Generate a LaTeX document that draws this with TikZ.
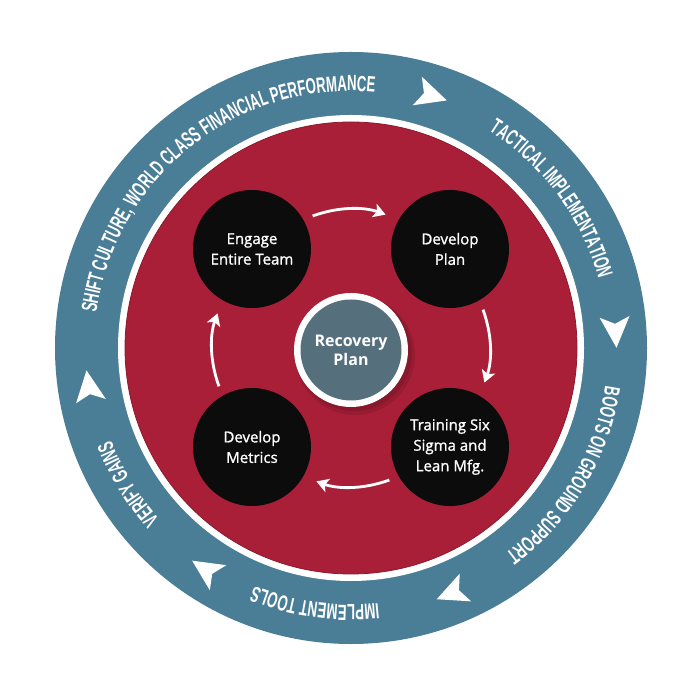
\documentclass[tikz,border=0pt]{standalone}
\usepackage{fontspec}
\usetikzlibrary{decorations.text,arrows.meta}
\newfontfamily\ringfont{Liberation Sans}[FakeStretch=0.6]
\newfontfamily\circfont{Open Sans}[FakeBold=1.2]
\newfontfamily\hubfont{Open Sans}
\definecolor{ringteal}{HTML}{4A7D96}
\definecolor{corered}{HTML}{AA1F38}
\definecolor{coreedge}{HTML}{8C1A2E}
\definecolor{hubgray}{HTML}{566F7D}
\definecolor{nodeblack}{HTML}{0C0C0C}
\tikzset{
  stagenode/.style={circle, fill=nodeblack, minimum size=118pt, inner sep=0pt,
    text=white, align=center, font=\circfont\fontsize{15}{20.5}\selectfont},
  cyclearrow/.style={draw=white, line width=2.8pt,
    -{Stealth[length=12pt,width=14pt,inset=3pt]}, bend left=20,
    shorten <=10pt, shorten >=14pt},
  ringtext/.style={decorate, decoration={text along path, text align={center},
    text={|\color{white}\ringfont\bfseries\fontsize{22}{22}\selectfont|#1}}},
  ringhead/.style={fill=white},
}
\begin{document}
\begin{tikzpicture}[x=1pt,y=1pt]
\useasboundingbox (-351,-352) rectangle (349,348);
% rings
\fill[ringteal] (0,0) circle[radius=296];
\fill[white] (0,0) circle[radius=233];
\fill[corered] (0,0) circle[radius=226];
\draw[coreedge,line width=0.8pt] (0,0) circle[radius=226];
% ring texts
\path[ringtext={SHIFT CULTURE, WORLD CLASS FINANCIAL PERFORMANCE}]
  (198.4:257) arc[start angle=198.4, end angle=58.4, radius=257];
\path[ringtext={TACTICAL IMPLEMENTATION}]
  (76.6:257) arc[start angle=76.6, end angle=-3.4, radius=257];
\path[ringtext={BOOTS ON GROUND SUPPORT}]
  (9.2:257) arc[start angle=9.2, end angle=-70.8, radius=257];
\path[ringtext={IMPLEMENT TOOLS}]
  (-68:257) arc[start angle=-68, end angle=-128, radius=257];
\path[ringtext={VERIFY GAINS}]
  (241.4:257) arc[start angle=241.4, end angle=181.4, radius=257];
% ring arrowheads
\foreach \a in {72.3,3.5,-67.7,236.7,188.3}{
  \fill[ringhead,rotate=\a] (265,-16) -- (280,15) -- (265,8) -- (250,15) -- cycle;
}
% hub
\fill[black,opacity=0.10] (4,-7) circle[radius=60];
\fill[black,opacity=0.10] (3,-5) circle[radius=58];
\node[circle, fill=white, minimum size=114pt, inner sep=0pt] (hubring) at (0,-2) {};
\node[circle, fill=hubgray, minimum size=101pt, inner sep=0pt, text=white,
  align=center, font=\hubfont\bfseries\fontsize{16}{19}\selectfont] (hub) at (0,-2) {Recovery\\Plan};
% stages
\node[stagenode] (engage) at (-99,99) {Engage\\Entire Team};
\node[stagenode] (plan) at (99,99) {Develop\\Plan};
\node[stagenode] (training) at (99,-99) {Training Six\\Sigma and\\Lean Mfg.};
\node[stagenode] (metrics) at (-99,-99) {Develop\\Metrics};
% cycle arrows
\draw[cyclearrow] (engage.30) to (plan.150);
\draw[cyclearrow] (plan.-60) to (training.60);
\draw[cyclearrow] (training.-150) to (metrics.-30);
\draw[cyclearrow] (metrics.120) to (engage.-120);
\end{tikzpicture}
\end{document}
